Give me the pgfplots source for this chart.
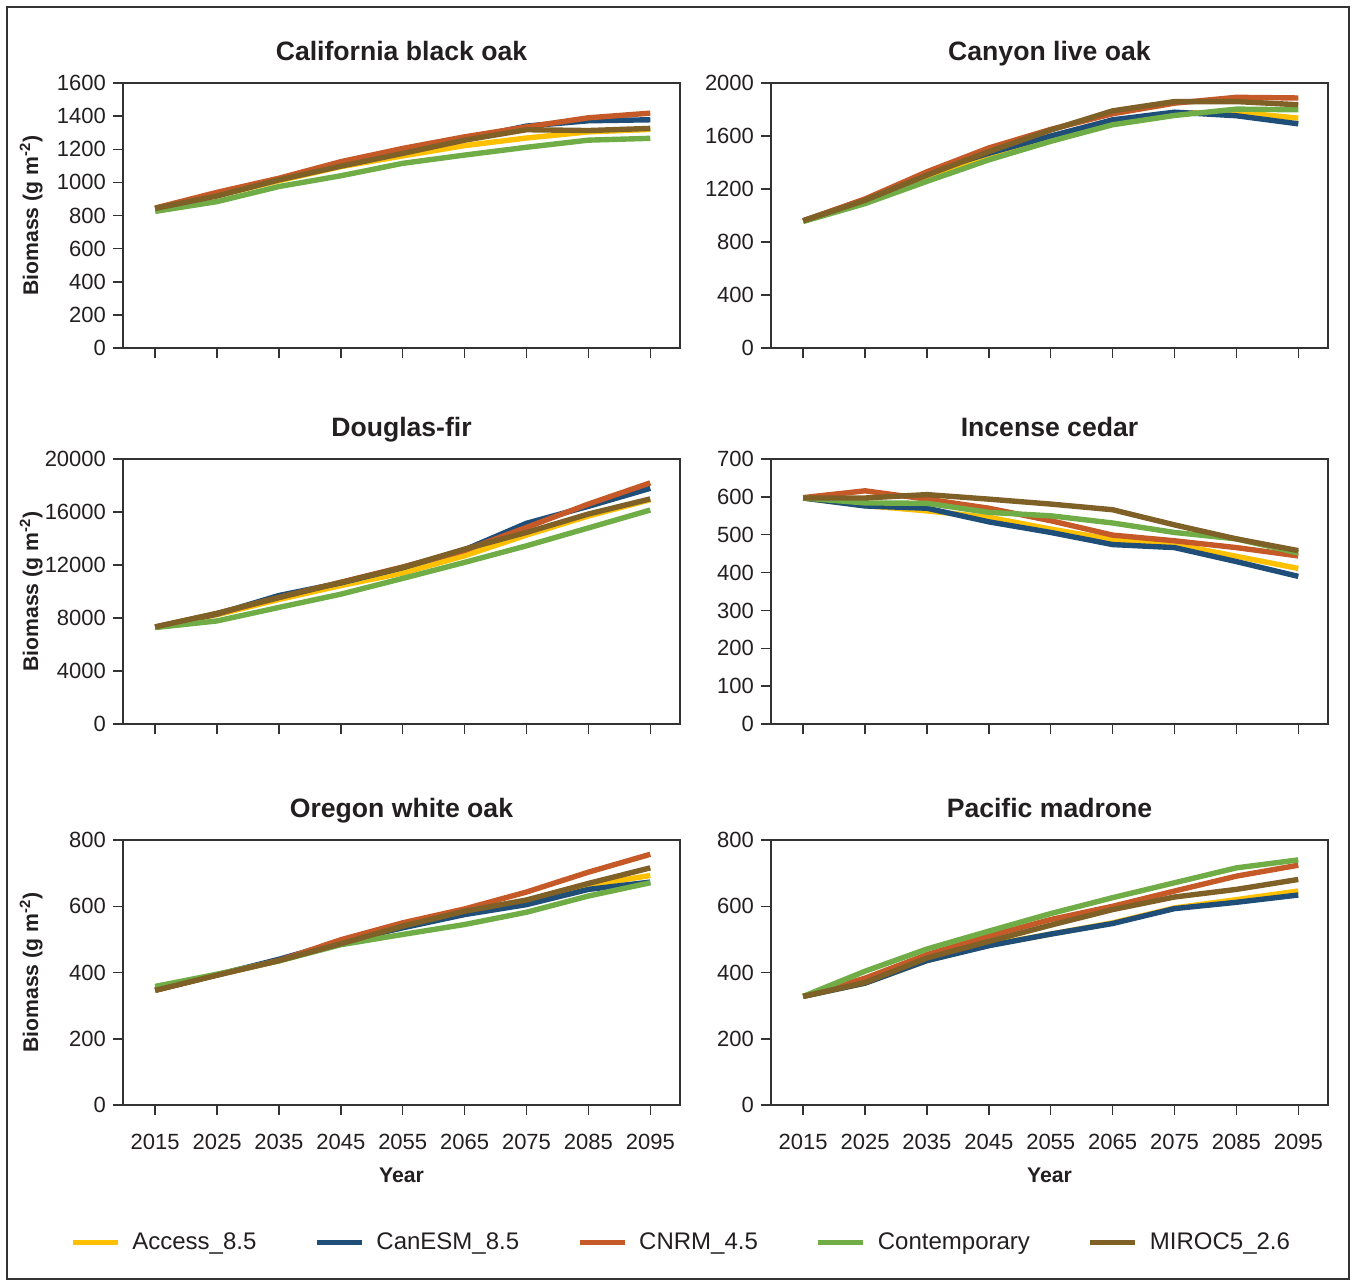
\documentclass[border=0pt]{standalone}
\usepackage{fontspec}
\setmainfont{Liberation Sans}
\usepackage{pgfplots}
\usepackage{pgfplotstable}
\pgfplotsset{compat=1.18}

\definecolor{cAccess}{HTML}{FFC000}
\definecolor{cCanESM}{HTML}{1F4E79}
\definecolor{cCNRM}{HTML}{C55A28}
\definecolor{cCont}{HTML}{70AD47}
\definecolor{cMIROC}{HTML}{7F6128}
\definecolor{axisgray}{HTML}{333333}
\definecolor{txt}{HTML}{231F20}

% columns: year, Access_8.5, CanESM_8.5, CNRM_4.5, Contemporary, MIROC5_2.6
\pgfplotstableread{
year acc  can  cnrm cont miroc
2015 840  840  845  825  843
2025 920  925  940  884  918
2035 1010 1020 1025 975  1015
2045 1095 1105 1125 1040 1098
2055 1160 1180 1205 1115 1175
2065 1222 1262 1275 1165 1255
2075 1268 1340 1335 1212 1318
2085 1305 1372 1390 1255 1313
2095 1320 1378 1418 1266 1326
}\blackoak
\pgfplotstableread{
year acc  can  cnrm cont miroc
2015 960  960  960  955  960
2025 1105 1120 1125 1090 1115
2035 1290 1325 1330 1258 1305
2045 1450 1470 1510 1420 1482
2055 1595 1600 1650 1560 1645
2065 1710 1722 1768 1685 1790
2075 1770 1780 1848 1755 1860
2085 1780 1753 1892 1803 1860
2095 1735 1692 1887 1798 1836
}\canyonoak
\pgfplotstableread{
year acc   can   cnrm  cont  miroc
2015 7300  7300  7320  7280  7330
2025 8250  8300  8330  7780  8360
2035 9400  9700  9550  8800  9550
2045 10450 10650 10700 9800  10680
2055 11400 11800 11850 10990 11820
2065 12700 13150 13100 12200 13200
2075 14260 15150 14840 13450 14460
2085 15700 16430 16600 14800 15850
2095 16930 17790 18200 16150 16990
}\douglasfir
\pgfplotstableread{
year acc can cnrm cont miroc
2015 597 597 598 597 597
2025 577 576 616 584 597
2035 563 570 594 583 606
2045 546 534 570 559 594
2055 515 506 537 550 581
2065 487 474 499 531 566
2075 475 466 484 506 526
2085 443 429 466 489 489
2095 411 390 444 452 458
}\cedar
\pgfplotstableread{
year acc can cnrm cont miroc
2015 347 347 347 358 346
2025 393 393 393 395 392
2035 436 440 436 435 436
2045 487 493 499 484 487
2055 537 535 550 515 540
2065 580 575 592 545 585
2075 618 605 643 582 619
2085 663 651 703 631 669
2095 693 673 757 671 716
}\whiteoak
\pgfplotstableread{
year acc can cnrm cont miroc
2015 328 328 328 328 328
2025 368 368 383 404 370
2035 436 436 454 471 444
2045 483 481 510 525 494
2055 516 516 560 578 543
2065 550 548 600 626 590
2075 595 593 646 671 628
2085 620 612 691 716 651
2095 646 634 724 740 681
}\madrone

\pgfplotsset{
  panel/.style={
    scale only axis, width=278.5pt, height=132.5pt,
    anchor=south west,
    xmin=2009.8, xmax=2099.8, ymin=0,
    xtick={2015,2025,...,2095},
    tick align=outside, major tick length=5pt,
    xtick pos=bottom, ytick pos=left,
    axis line style={line width=0.75pt, color=axisgray},
    tick style={line width=0.75pt, color=axisgray},
    tick label style={font=\fontsize{11}{13}\selectfont, text=txt},
    xticklabel style={yshift=-6pt},
    /pgf/number format/assume math mode=true,
    /pgf/number format/1000 sep={},
    scaled y ticks=false,
    title style={font=\bfseries\fontsize{13.3}{15}\selectfont, text=txt,
      at={(axis description cs:0.5,1)}, anchor=base, yshift=5.5pt},
    every axis y label/.style={at={(axis description cs:-0.165,0.5)},
      rotate=90, anchor=center, font=\bfseries\fontsize{10.6}{12}\selectfont, text=txt},
    every axis x label/.style={at={(axis description cs:0.5,-0.265)},
      anchor=center, font=\bfseries\fontsize{10.6}{12}\selectfont, text=txt},
    every axis plot/.append style={line width=2.7pt, no markers, line join=round},
  },
  nolabels/.style={xticklabels={}},
}

\newcommand{\series}[1]{%
  \addplot[cAccess] table[x=year, y=acc] {#1};
  \addplot[cCanESM] table[x=year, y=can] {#1};
  \addplot[cCNRM]   table[x=year, y=cnrm] {#1};
  \addplot[cCont]   table[x=year, y=cont] {#1};
  \addplot[cMIROC]  table[x=year, y=miroc] {#1};
}

\begin{document}
\begin{tikzpicture}
\useasboundingbox (0pt,0pt) rectangle (676pt,-640.5pt);
\draw[line width=0.8pt, color=axisgray] (3.5pt,-3.5pt) rectangle (674.5pt,-639.5pt);

\begin{axis}[panel, nolabels, at={(61.5pt,-174pt)},
  title={California black oak}, ylabel={Biomass (g m\textsuperscript{-2})},
  ymax=1600, ytick={0,200,...,1600}]
\series{\blackoak}
\end{axis}

\begin{axis}[panel, nolabels, at={(385.5pt,-174pt)},
  title={Canyon live oak},
  ymax=2000, ytick={0,400,...,2000}]
\series{\canyonoak}
\end{axis}

\begin{axis}[panel, nolabels, at={(61.5pt,-362pt)},
  title={Douglas-fir}, ylabel={Biomass (g m\textsuperscript{-2})},
  ymax=20000, ytick={0,4000,...,20000}]
\series{\douglasfir}
\end{axis}

\begin{axis}[panel, nolabels, at={(385.5pt,-362pt)},
  title={Incense cedar},
  ymax=700, ytick={0,100,...,700}]
\series{\cedar}
\end{axis}

\begin{axis}[panel, at={(61.5pt,-552.5pt)},
  title={Oregon white oak}, ylabel={Biomass (g m\textsuperscript{-2})}, xlabel={Year},
  ymax=800, ytick={0,200,...,800},
  legend columns=5,
  legend cell align=left,
  legend image code/.code={\draw[#1, line width=2.5pt] (0pt,0pt) -- (22.5pt,0pt);},
  legend style={at={(axis description cs:1.004,-0.52)}, anchor=center,
    draw=none, fill=none, font=\fontsize{12}{14}\selectfont, text=txt,
    /tikz/every odd column/.append style={column sep=4pt},
    /tikz/every even column/.append style={column sep=27pt}}]
\series{\whiteoak}
\legend{Access\_8.5, CanESM\_8.5, CNRM\_4.5, Contemporary, MIROC5\_2.6}
\end{axis}

\begin{axis}[panel, at={(385.5pt,-552.5pt)},
  title={Pacific madrone}, xlabel={Year},
  ymax=800, ytick={0,200,...,800}]
\series{\madrone}
\end{axis}
\end{tikzpicture}
\end{document}
